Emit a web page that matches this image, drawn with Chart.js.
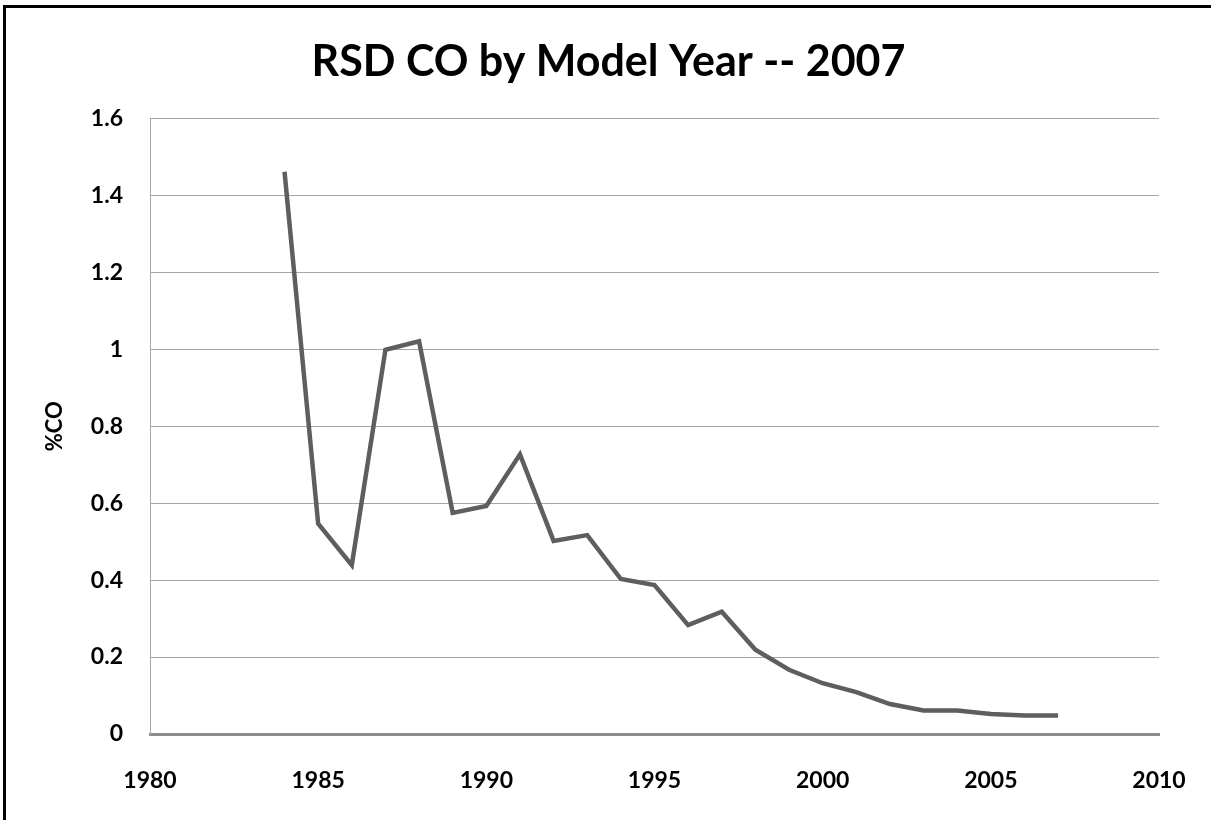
<!DOCTYPE html>
<html>
<head>
<meta charset="utf-8">
<script src="https://cdn.jsdelivr.net/npm/chart.js@4"></script>
<style>
  html, body { margin: 0; padding: 0; width: 1211px; height: 820px; overflow: hidden; background: #fff; }
  #frame { position: absolute; left: 3px; top: 5px; width: 1300px; height: 900px; border: 3px solid #000; box-sizing: border-box; }
  #c { position: absolute; left: 0; top: 0; }
</style>
</head>
<body>
<div id="frame"></div>
<canvas id="c" width="1211" height="820"></canvas>
<script>
const titleText = "RSD CO by Model Year -- 2007";
const yAxisLabel = "%CO";
const modelYears = [1984, 1985, 1986, 1987, 1988, 1989, 1990, 1991, 1992, 1993, 1994, 1995,
                    1996, 1997, 1998, 1999, 2000, 2001, 2002, 2003, 2004, 2005, 2006, 2007];
const coPercent = [1.462, 0.547, 0.439, 0.999, 1.021, 0.575, 0.593, 0.727, 0.502, 0.517, 0.403, 0.387,
                   0.283, 0.318, 0.219, 0.167, 0.132, 0.109, 0.078, 0.061, 0.061, 0.052, 0.048, 0.048];
const xMin = 1980, xMax = 2010, xStep = 5;
const yMin = 0, yMax = 1.6, yStep = 0.2;

const FONT = "Lato, 'Open Sans', sans-serif";
const points = modelYears.map((yr, i) => ({ x: yr, y: coPercent[i] }));

new Chart(document.getElementById('c'), {
  type: 'line',
  data: {
    datasets: [{
      data: points,
      borderColor: '#5e5e5e',
      borderWidth: 4.5,
      pointRadius: 0,
      tension: 0,
      fill: false
    }]
  },
  options: {
    responsive: false,
    animation: false,
    layout: { padding: { left: 6, right: 0, top: 0, bottom: 0 } },
    plugins: {
      legend: { display: false },
      tooltip: { enabled: false },
      title: {
        display: true,
        text: titleText,
        color: '#000',
        font: { family: FONT, size: 43, weight: 'bold', lineHeight: 1.2 },
        padding: { top: 36, bottom: 31 }
      }
    },
    scales: {
      x: {
        type: 'linear',
        min: xMin, max: xMax,
        grid: { display: false },
        border: { display: true, color: '#8c8c8c', width: 3 },
        ticks: {
          stepSize: xStep,
          color: '#000',
          padding: 25,
          maxRotation: 0,
          font: { family: FONT, size: 23, weight: 'bold' },
          callback: v => String(v)
        },
        afterFit: s => { s.height = 86; }
      },
      y: {
        min: yMin, max: yMax,
        grid: { color: '#a6a6a6', lineWidth: 1, drawTicks: false },
        border: { display: true, color: '#a6a6a6', width: 1 },
        ticks: {
          stepSize: yStep,
          color: '#000',
          padding: 27,
          font: { family: FONT, size: 23, weight: 'bold' },
          callback: v => String(Math.round(v * 10) / 10)
        },
        title: {
          display: true,
          text: yAxisLabel,
          color: '#000',
          font: { family: FONT, size: 22, weight: 'bold', lineHeight: 1.2 },
          padding: { top: 36, bottom: 0 }
        },
        afterFit: s => { s.width = 144; }
      },
      yRight: {
        position: 'right',
        display: true,
        min: yMin, max: yMax,
        grid: { display: false, drawTicks: false },
        border: { display: false },
        ticks: { display: false },
        afterFit: s => { s.width = 52; }
      }
    }
  }
});
</script>
</body>
</html>
